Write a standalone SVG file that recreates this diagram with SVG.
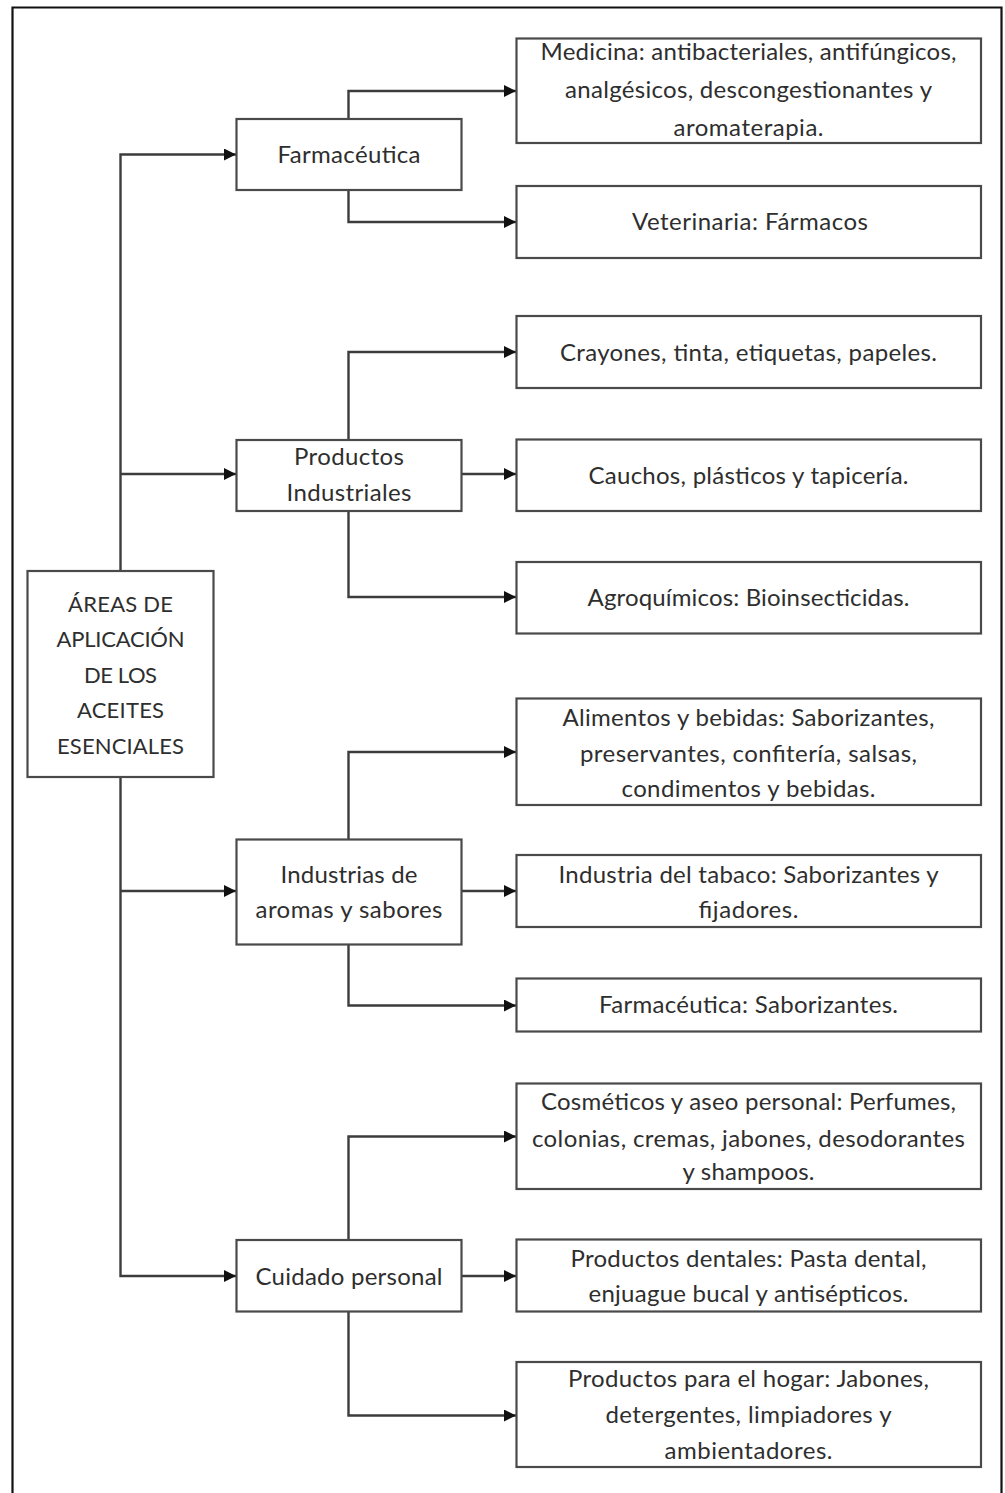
<svg xmlns="http://www.w3.org/2000/svg" width="1005" height="1493" viewBox="0 0 1005 1493">
<style>
.bx{fill:#fff;stroke:#4a4a4a;stroke-width:2.2}
.cn{fill:none;stroke:#3c3c3c;stroke-width:2.4}
.t{font-family:Lato,"Open Sans","Liberation Sans",sans-serif;font-size:24px;fill:#2e2e2e;text-anchor:middle}
.r{font-size:22px}
</style>
<defs>
<marker id="ah" markerUnits="userSpaceOnUse" markerWidth="13" markerHeight="13" refX="12" refY="6" orient="auto">
<path d="M0,0 L12,6 L0,12 Z" fill="#111"/>
</marker>
</defs>
<rect width="1005" height="1493" fill="#fff"/>
<path d="M12.5,1495 V7.5 H1001.5 V1495" fill="none" stroke="#111" stroke-width="2.2"/>
<g id="connectors" class="cn">
<path d="M120.5,571 V154.5 H236" marker-end="url(#ah)"/>
<path d="M120.5,474 H236" marker-end="url(#ah)"/>
<path d="M120.5,777 V1276 H236" marker-end="url(#ah)"/>
<path d="M120.5,891 H236" marker-end="url(#ah)"/>
<path d="M348.5,119 V91 H516" marker-end="url(#ah)"/>
<path d="M348.5,190 V222 H516" marker-end="url(#ah)"/>
<path d="M348.5,440 V352 H516" marker-end="url(#ah)"/>
<path d="M461.5,474 H516" marker-end="url(#ah)"/>
<path d="M348.5,511 V597 H516" marker-end="url(#ah)"/>
<path d="M348.5,839.5 V752 H516" marker-end="url(#ah)"/>
<path d="M461.5,891 H516" marker-end="url(#ah)"/>
<path d="M348.5,944.5 V1005.5 H516" marker-end="url(#ah)"/>
<path d="M348.5,1240 V1136.5 H516" marker-end="url(#ah)"/>
<path d="M461.5,1276 H516" marker-end="url(#ah)"/>
<path d="M348.5,1311.5 V1415.5 H516" marker-end="url(#ah)"/>
</g>
<g id="root">
<rect class="bx" x="27.5" y="571" width="186" height="206"/>
<text class="t r"><tspan x="120.5" y="612" textLength="105" lengthAdjust="spacing">ÁREAS DE</tspan><tspan x="120.5" y="647" textLength="128" lengthAdjust="spacing">APLICACIÓN</tspan><tspan x="120.5" y="683" textLength="73" lengthAdjust="spacing">DE LOS</tspan><tspan x="120.5" y="718" textLength="87" lengthAdjust="spacing">ACEITES</tspan><tspan x="120.5" y="754" textLength="127" lengthAdjust="spacing">ESENCIALES</tspan></text>
</g>
<g id="farmaceutica">
<rect class="bx" x="236.5" y="119" width="225" height="71"/>
<text class="t" x="349" y="163" textLength="143" lengthAdjust="spacing">Farmacéutica</text>
</g>
<g id="productos-industriales">
<rect class="bx" x="236.5" y="440" width="225" height="71"/>
<text class="t"><tspan x="349" y="465" textLength="110" lengthAdjust="spacing">Productos</tspan><tspan x="349" y="501" textLength="125" lengthAdjust="spacing">Industriales</tspan></text>
</g>
<g id="industrias-aromas">
<rect class="bx" x="236.5" y="839.5" width="225" height="105"/>
<text class="t"><tspan x="349" y="883" textLength="137" lengthAdjust="spacing">Industrias de</tspan><tspan x="349" y="918" textLength="187" lengthAdjust="spacing">aromas y sabores</tspan></text>
</g>
<g id="cuidado-personal">
<rect class="bx" x="236.5" y="1240" width="225" height="71.5"/>
<text class="t" x="349" y="1284.5" textLength="187" lengthAdjust="spacing">Cuidado personal</text>
</g>
<g id="medicina">
<rect class="bx" x="516.5" y="38.5" width="464.5" height="104.5"/>
<text class="t"><tspan x="748.5" y="59.5" textLength="416" lengthAdjust="spacing">Medicina: antibacteriales, antifúngicos,</tspan><tspan x="748.5" y="98" textLength="367" lengthAdjust="spacing">analgésicos, descongestionantes y</tspan><tspan x="748.5" y="135.5" textLength="150" lengthAdjust="spacing">aromaterapia.</tspan></text>
</g>
<g id="veterinaria">
<rect class="bx" x="516.5" y="186" width="464.5" height="72"/>
<text class="t" x="750" y="230" textLength="236" lengthAdjust="spacing">Veterinaria: Fármacos</text>
</g>
<g id="crayones">
<rect class="bx" x="516.5" y="316" width="464.5" height="72"/>
<text class="t" x="748.5" y="361" textLength="377" lengthAdjust="spacing">Crayones, tinta, etiquetas, papeles.</text>
</g>
<g id="cauchos">
<rect class="bx" x="516.5" y="439.5" width="464.5" height="71.5"/>
<text class="t" x="748.5" y="483.5" textLength="320" lengthAdjust="spacing">Cauchos, plásticos y tapicería.</text>
</g>
<g id="agroquimicos">
<rect class="bx" x="516.5" y="562" width="464.5" height="71.5"/>
<text class="t" x="748.5" y="606" textLength="322" lengthAdjust="spacing">Agroquímicos: Bioinsecticidas.</text>
</g>
<g id="alimentos">
<rect class="bx" x="516.5" y="698.5" width="464.5" height="106.5"/>
<text class="t"><tspan x="748.5" y="726" textLength="372" lengthAdjust="spacing">Alimentos y bebidas: Saborizantes,</tspan><tspan x="748.5" y="762" textLength="337" lengthAdjust="spacing">preservantes, confitería, salsas,</tspan><tspan x="748.5" y="797" textLength="254" lengthAdjust="spacing">condimentos y bebidas.</tspan></text>
</g>
<g id="tabaco">
<rect class="bx" x="516.5" y="855" width="464.5" height="72"/>
<text class="t"><tspan x="748.5" y="883" textLength="380" lengthAdjust="spacing">Industria del tabaco: Saborizantes y</tspan><tspan x="748.5" y="918" textLength="100" lengthAdjust="spacing">fijadores.</tspan></text>
</g>
<g id="farmaceutica-saborizantes">
<rect class="bx" x="516.5" y="978.5" width="464.5" height="53"/>
<text class="t" x="748.5" y="1013" textLength="299" lengthAdjust="spacing">Farmacéutica: Saborizantes.</text>
</g>
<g id="cosmeticos">
<rect class="bx" x="516.5" y="1083.5" width="464.5" height="105.5"/>
<text class="t"><tspan x="748.5" y="1110" textLength="415" lengthAdjust="spacing">Cosméticos y aseo personal: Perfumes,</tspan><tspan x="748.5" y="1146.5" textLength="433" lengthAdjust="spacing">colonias, cremas, jabones, desodorantes</tspan><tspan x="748.5" y="1180" textLength="132" lengthAdjust="spacing">y shampoos.</tspan></text>
</g>
<g id="dentales">
<rect class="bx" x="516.5" y="1239.5" width="464.5" height="72"/>
<text class="t"><tspan x="748.5" y="1267" textLength="356" lengthAdjust="spacing">Productos dentales: Pasta dental,</tspan><tspan x="748.5" y="1302" textLength="320" lengthAdjust="spacing">enjuague bucal y antisépticos.</tspan></text>
</g>
<g id="hogar">
<rect class="bx" x="516.5" y="1362" width="464.5" height="105"/>
<text class="t"><tspan x="748.5" y="1387" textLength="361" lengthAdjust="spacing">Productos para el hogar: Jabones,</tspan><tspan x="748.5" y="1423" textLength="286" lengthAdjust="spacing">detergentes, limpiadores y</tspan><tspan x="748.5" y="1458.5" textLength="168" lengthAdjust="spacing">ambientadores.</tspan></text>
</g>
</svg>
